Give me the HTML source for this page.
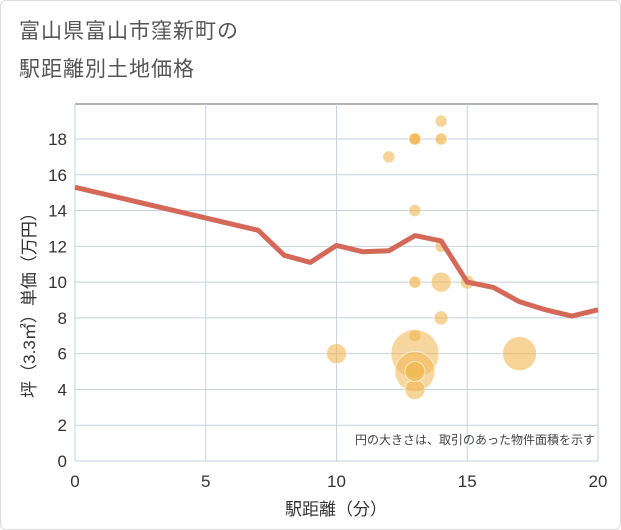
<!DOCTYPE html>
<html><head><meta charset="utf-8"><style>
body{margin:0;background:#fff;font-family:"Liberation Sans","Noto Sans CJK JP",sans-serif}
#wrap{position:relative;width:621px;height:530px;overflow:hidden;border:1px solid #ddd;box-sizing:border-box;border-radius:6px}
.title{position:absolute;left:18px;font-size:21px;color:#555;letter-spacing:1px}
</style></head><body>
<div id="wrap">
<div class="title" style="top:14px">富山県富山市窪新町の</div>
<div class="title" style="top:52px">駅距離別土地価格</div>
<svg id="svg" width="621" height="530" style="position:absolute;left:0;top:0"></svg>
</div>
<script>
const xTicks=[0,5,10,15,20];
const yTicks=[0,2,4,6,8,10,12,14,16,18];
const lineX=[0,7,8,9,10,11,12,13,14,15,16,17,18,19,20];
const lineY=[15.3,12.9,11.5,11.1,12.05,11.7,11.75,12.6,12.3,10.0,9.7,8.9,8.45,8.1,8.45];
const ptX=[12,13,13,14,14,13,14,13,14,15,14,13,10,13,13,13,17,13];
const ptY=[17,18,18,19,18,14,12,10,10,10,8,7,6,6,5,4,6,5];
const ptR=[6,6,6,6,6,6,6,6,10,7,7,6,10,24,20,10,17,10];
const ptO=[0.6,0.7,0.7,0.6,0.7,0.6,0.6,0.7,0.6,0.6,0.6,0.6,0.6,0.55,0.55,0.6,0.6,0.7];
const X0=74,X1=597,Y0=460,Y1=103;
const sx=v=>X0+(v-0)/20*(X1-X0);
const sy=v=>Y0-v/18*(Y0-138);
const svg=document.getElementById('svg');
const NS='http://www.w3.org/2000/svg';
function mk(t,a){const e=document.createElementNS(NS,t);for(const k in a)e.setAttribute(k,a[k]);svg.appendChild(e);return e;}
let e;
e=mk('line',{x1:X0,y1:Y1,x2:X1,y2:Y1,stroke:'#999','stroke-width':1.5});


yTicks.forEach(v=>{
 e=mk('line',{x1:X0,y1:sy(v),x2:X1,y2:sy(v),stroke:'#c5d2e0','stroke-width':1});
 
 
 e=mk('text',{x:X0-8,y:sy(v)+6,'text-anchor':'end','font-size':17,fill:'#333'});e.textContent=v;
 
 
});
xTicks.forEach(v=>{
 e=mk('line',{x1:sx(v),y1:Y1,x2:sx(v),y2:Y0,stroke:'#c5d2e0','stroke-width':1});
 
 
 e=mk('text',{x:sx(v),y:486,'text-anchor':'middle','font-size':17,fill:'#333'});e.textContent=v;
 
 
});
ptX.forEach((v,i)=>{
 e=mk('circle',{cx:sx(v),cy:sy(ptY[i]),r:ptR[i],fill:'#f0b650','fill-opacity':ptO[i],stroke:'#fff','stroke-opacity':0.6,'stroke-width':1});
 
 
});
e=mk('polyline',{points:lineX.map((v,i)=>sx(v)+','+sy(lineY[i])).join(' '),fill:'none',stroke:'#d4695a','stroke-width':5,'stroke-linejoin':'round'});


e=mk('text',{x:594,y:443,'text-anchor':'end','font-size':12,fill:'#444'});e.textContent='円の大きさは、取引のあった物件面積を示す';


e=mk('text',{x:335,y:514,'text-anchor':'middle','font-size':17,fill:'#333'});e.textContent='駅距離（分）';


e=mk('text',{x:0,y:0,'text-anchor':'middle','font-size':17,fill:'#333',transform:'translate(34,300) rotate(-90)'});e.textContent='坪（3.3㎡）単価（万円）';


</script>
</body></html>
